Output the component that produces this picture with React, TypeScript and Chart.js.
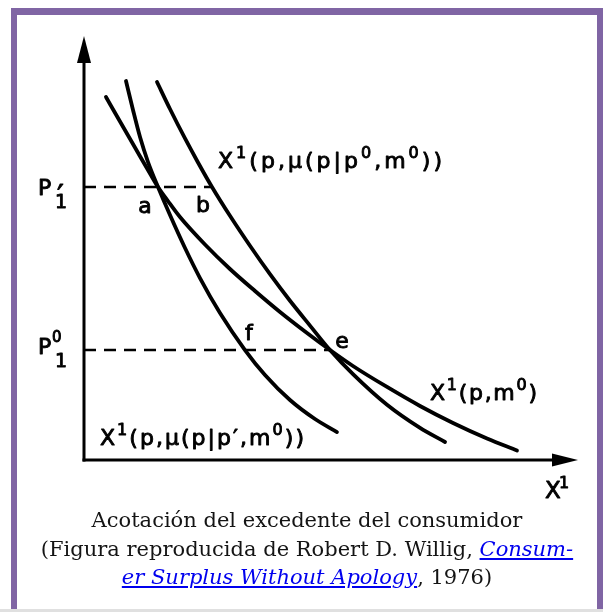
import { useEffect, useRef } from "react";
import { Chart, registerables } from "chart.js";

Chart.register(...registerables);

// Quantity x¹ and price p₁ on a 0–100 scale (arbitrary units)
// Marshallian demand x¹(p, m⁰)
const marshallX = [4.45, 7.29, 10.32, 13.36, 14.98, 17.0, 19.43, 24.49, 29.55, 34.62, 39.68, 44.74, 49.8, 54.45, 61.34, 68.02, 74.7, 81.58, 87.65];
const marshallP = [85.61, 79.83, 73.7, 67.57, 64.39, 61.08, 57.31, 50.83, 45.05, 39.86, 34.91, 30.31, 25.94, 22.17, 17.22, 12.74, 8.73, 5.07, 2.24];
// Compensated demand at p′: x¹(p, μ(p | p′, m⁰))
const compPrimeX = [8.5, 9.92, 11.34, 12.96, 14.98, 17.41, 20.45, 23.48, 27.53, 32.59, 36.64, 41.7, 46.76, 51.21];
const compPrimeP = [89.39, 82.55, 76.18, 70.28, 64.39, 57.78, 50.0, 42.92, 34.67, 25.94, 20.05, 14.15, 9.67, 6.6];
// Compensated demand at p⁰: x¹(p, μ(p | p⁰, m⁰))
const compZeroX = [14.78, 17.41, 20.45, 23.08, 25.91, 29.55, 33.6, 37.65, 41.7, 45.75, 49.8, 54.45, 61.34, 68.02, 73.08];
const compZeroP = [89.15, 82.78, 75.83, 70.17, 64.39, 57.59, 50.52, 43.82, 37.55, 31.7, 25.94, 20.24, 13.02, 7.57, 4.25];

// Price levels p₁′ and p₁⁰, and where each dashed guide stops (points b and e)
const priceLevels = [64.39, 25.94];
const guideEndsX = [25.91, 49.8];

// Labelled intersections
const pointNames = ["a", "b", "f", "e"];
const pointX = [14.98, 25.91, 32.59, 49.8];
const pointP = [64.39, 64.39, 25.94, 25.94];

const SANS = '"DejaVu Sans", sans-serif';
const INK = "#000";

type Run = { t: string; size: number; dy?: number };

// Hand-lettered look: filled glyph with a thin outline to thicken the strokes
function letter(ctx: CanvasRenderingContext2D, s: string, x: number, y: number) {
  ctx.fillText(s, x, y);
  ctx.strokeText(s, x, y);
}

// Draws a sequence of text runs (with super/subscripts), spread to a given width
function drawRuns(ctx: CanvasRenderingContext2D, runs: Run[], x: number, y: number, width?: number) {
  const chars: { c: string; size: number; dy: number; w: number }[] = [];
  for (const r of runs) {
    for (const c of Array.from(r.t)) {
      ctx.font = `${r.size}px ${SANS}`;
      chars.push({ c, size: r.size, dy: r.dy || 0, w: ctx.measureText(c).width });
    }
  }
  const natural = chars.reduce((s, ch) => s + ch.w, 0);
  const gap = width && chars.length > 1 ? (width - natural) / (chars.length - 1) : 0;
  let cx = x;
  ctx.textAlign = "left";
  ctx.textBaseline = "alphabetic";
  for (const ch of chars) {
    ctx.font = `${ch.size}px ${SANS}`;
    letter(ctx, ch.c, cx, y + ch.dy);
    cx += ch.w + gap;
  }
}

const diagramPlugin = {
  id: "diagram",
  afterDatasetsDraw(chart: Chart) {
    const ctx = chart.ctx;
    const xs = chart.scales.x;
    const ys = chart.scales.y;
    const area = chart.chartArea;
    const ox = xs.getPixelForValue(0);
    const oy = ys.getPixelForValue(0);
    ctx.save();
    ctx.strokeStyle = INK;
    ctx.fillStyle = INK;
    ctx.lineWidth = 3;
    ctx.lineCap = "butt";

    // vertical axis with arrow
    ctx.beginPath();
    ctx.moveTo(ox, oy + 1.5);
    ctx.lineTo(ox, area.top + 20);
    ctx.stroke();
    ctx.beginPath();
    ctx.moveTo(ox, area.top);
    ctx.lineTo(ox - 7, area.top + 27);
    ctx.lineTo(ox + 7, area.top + 27);
    ctx.closePath();
    ctx.fill();

    // horizontal axis with arrow
    ctx.beginPath();
    ctx.moveTo(ox - 1.5, oy);
    ctx.lineTo(area.right - 20, oy);
    ctx.stroke();
    ctx.beginPath();
    ctx.moveTo(area.right, oy);
    ctx.lineTo(area.right - 26, oy - 6.5);
    ctx.lineTo(area.right - 26, oy + 6.5);
    ctx.closePath();
    ctx.fill();

    ctx.lineWidth = 0.9;
    ctx.lineJoin = "round";
    ctx.textAlign = "left";
    ctx.textBaseline = "alphabetic";

    // axis label x¹
    ctx.font = `23px ${SANS}`;
    letter(ctx, "X", area.right - 33, oy + 38);
    ctx.font = `16px ${SANS}`;
    letter(ctx, "1", area.right - 19, oy + 28);

    // price labels P₁′ and P₁⁰
    const yP1 = ys.getPixelForValue(priceLevels[0]);
    const yP0 = ys.getPixelForValue(priceLevels[1]);
    ctx.font = `22px ${SANS}`;
    letter(ctx, "P", ox - 46, yP1 + 8);
    ctx.font = `30px ${SANS}`;
    letter(ctx, "′", ox - 27, yP1 + 19);
    ctx.font = `19px ${SANS}`;
    letter(ctx, "1", ox - 29, yP1 + 21);
    ctx.font = `22px ${SANS}`;
    letter(ctx, "P", ox - 46, yP0 + 4);
    ctx.font = `15px ${SANS}`;
    letter(ctx, "0", ox - 32, yP0 - 8);
    ctx.font = `19px ${SANS}`;
    letter(ctx, "1", ox - 29, yP0 + 17);

    // point letters
    const offsets: [number, number][] = [
      [-13, 20],
      [-9, 19],
      [4, -16],
      [12, -8],
    ];
    ctx.font = `22px ${SANS}`;
    ctx.textAlign = "center";
    ctx.textBaseline = "middle";
    pointNames.forEach((n, i) => {
      const px = xs.getPixelForValue(pointX[i]);
      const py = ys.getPixelForValue(pointP[i]);
      letter(ctx, n, px + offsets[i][0], py + offsets[i][1]);
    });

    // curve labels
    const sup = (t: string): Run => ({ t, size: 16, dy: -10 });
    const txt = (t: string): Run => ({ t, size: 22 });
    drawRuns(
      ctx,
      [txt("X"), sup("1"), txt("(p,μ(p|p"), sup("0"), txt(",m"), sup("0"), txt("))")],
      218,
      168,
      224
    );
    drawRuns(ctx, [txt("X"), sup("1"), txt("(p,m"), sup("0"), txt(")")], 430, 400, 107);
    drawRuns(
      ctx,
      [txt("X"), sup("1"), txt("(p,μ(p|p′,m"), sup("0"), txt("))")],
      100,
      445,
      204
    );
    ctx.restore();
  },
};

function curve(xv: number[], pv: number[]) {
  return {
    data: xv.map((x, i) => ({ x, y: pv[i] })),
    borderColor: INK,
    borderWidth: 3.8,
    borderCapStyle: "round" as const,
    borderJoinStyle: "round" as const,
    cubicInterpolationMode: "monotone" as const,
    pointRadius: 0,
    fill: false,
  };
}

function guide(level: number, endX: number) {
  return {
    data: [
      { x: 0, y: level },
      { x: endX, y: level },
    ],
    borderColor: INK,
    borderWidth: 2.6,
    borderDash: [12, 8],
    pointRadius: 0,
    fill: false,
  };
}

export default function App() {
  const ref = useRef<HTMLCanvasElement>(null);

  useEffect(() => {
    const canvas = ref.current;
    if (!canvas) return;
    const chart = new Chart(canvas, {
      type: "line",
      data: {
        datasets: [
          curve(marshallX, marshallP),
          curve(compPrimeX, compPrimeP),
          curve(compZeroX, compZeroP),
          guide(priceLevels[0], guideEndsX[0]),
          guide(priceLevels[1], guideEndsX[1]),
        ] as any,
      },
      options: {
        responsive: false,
        animation: false,
        devicePixelRatio: 1,
        layout: { padding: { left: 84, right: 25, top: 36, bottom: 152 } },
        scales: {
          x: { type: "linear", min: 0, max: 100, display: false },
          y: { type: "linear", min: 0, max: 100, display: false },
        },
        plugins: {
          legend: { display: false },
          tooltip: { enabled: false },
          title: { display: false },
        },
      },
      plugins: [diagramPlugin],
    });
    return () => chart.destroy();
  }, []);

  return (
    <div
      style={{
        position: "fixed",
        left: 0,
        top: 0,
        width: 603,
        height: 612,
        background: "#fff",
        overflow: "hidden",
      }}
    >
      <div
        style={{
          position: "absolute",
          left: 11,
          top: 8,
          width: 580,
          height: 640,
          borderStyle: "solid",
          borderColor: "#8065a4",
          borderWidth: "7px 6px 0 6px",
          background: "#fff",
        }}
      />
      <canvas
        ref={ref}
        width={603}
        height={612}
        style={{ position: "absolute", left: 0, top: 0, width: 603, height: 612 }}
      />
      <div
        style={{
          position: "absolute",
          left: 17,
          top: 506,
          width: 580,
          textAlign: "center",
          whiteSpace: "nowrap",
          fontFamily: '"DejaVu Serif", serif',
          fontSize: 21,
          lineHeight: "28.5px",
          color: "#141414",
        }}
      >
        Acotación del excedente del consumidor
        <br />
        (Figura reproducida de Robert D. Willig,{" "}
        <a href="#" style={{ color: "#0000ee", fontStyle: "italic" }}>
          Consum-
          <br />
          er Surplus Without Apology
        </a>
        , 1976)
      </div>
      <div
        style={{
          position: "absolute",
          left: 0,
          top: 609,
          width: 603,
          height: 3,
          background: "#e0e0e0",
        }}
      />
    </div>
  );
}
